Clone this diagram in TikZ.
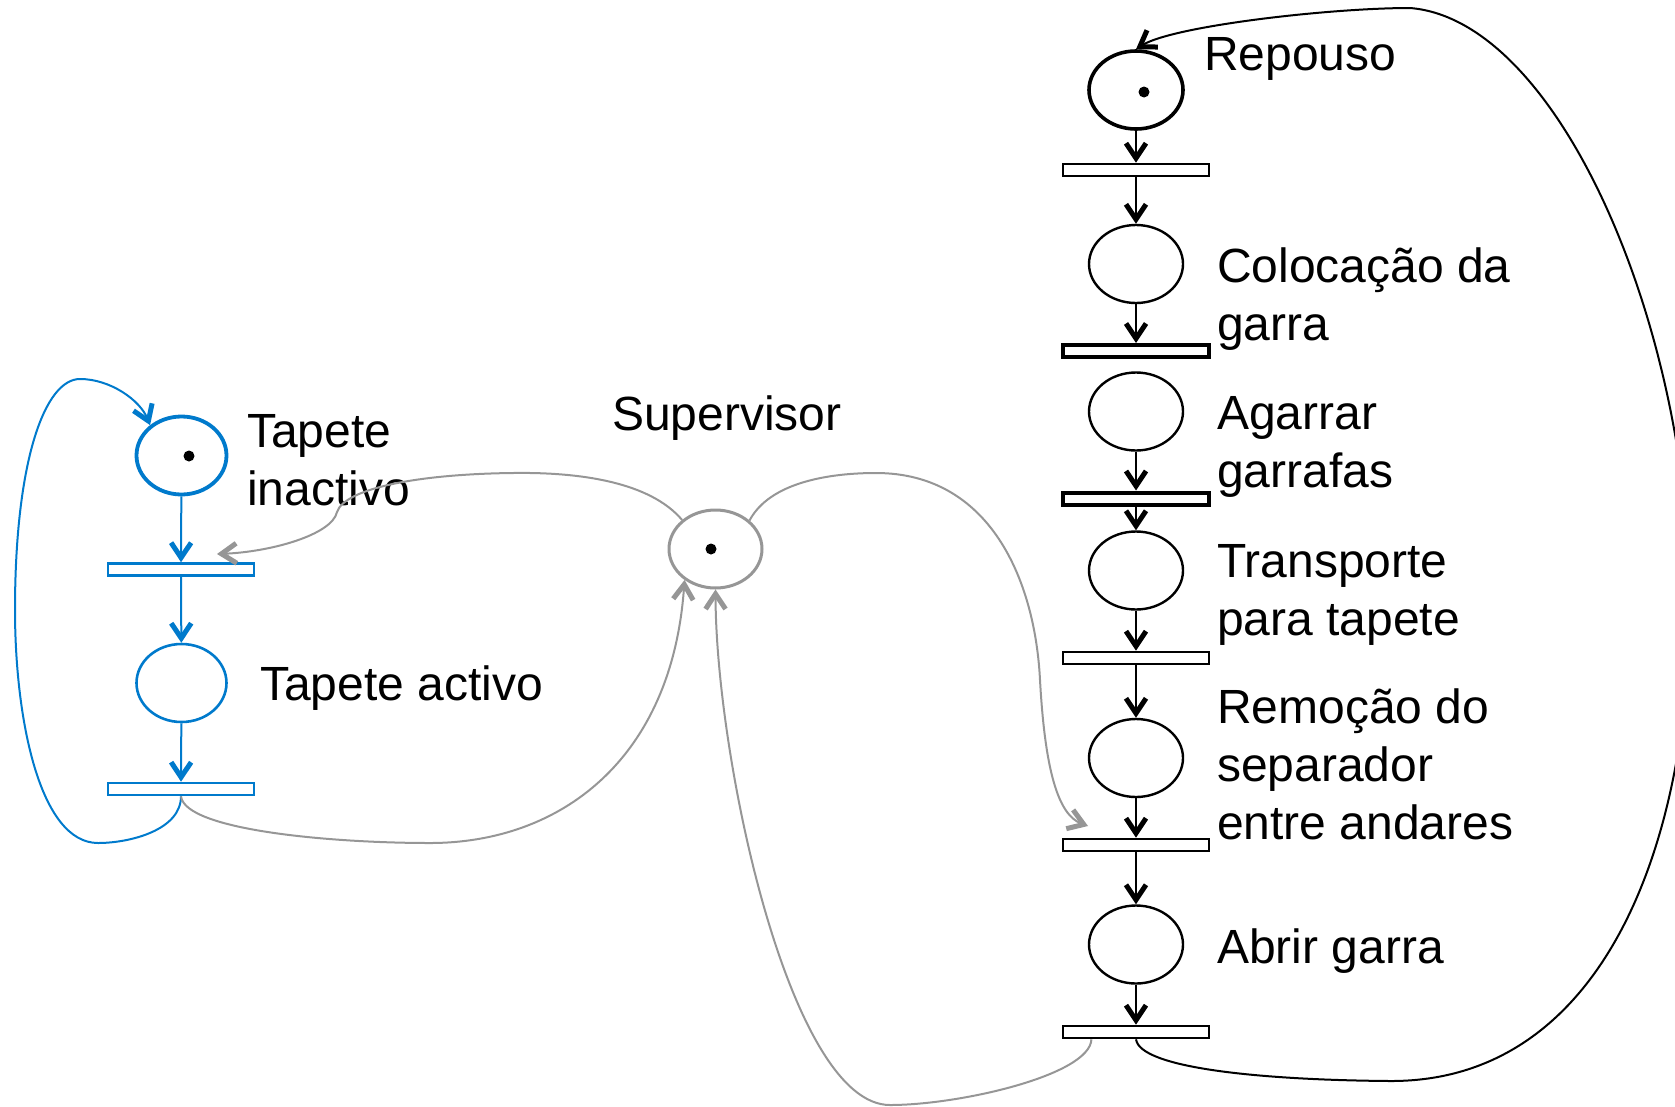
\documentclass[tikz,border=0pt]{standalone}
\usepackage{fontspec}
\setmainfont{Liberation Sans}
\usetikzlibrary{shapes.geometric,arrows.meta,calc}
\definecolor{netblue}{RGB}{0,122,204}
\definecolor{netgrey}{RGB}{150,150,150}
% several lines of text, the box baseline being that of the first line
\newcommand\txtlines[1]{\begin{tabular}[t]{@{}l@{}}#1\end{tabular}}

\begin{document}
\begin{tikzpicture}[x=1pt,y=-1pt,
  place/.style={ellipse,draw,fill=white,inner sep=0pt,minimum width=94pt,minimum height=78pt,line width=2.4pt},
  trans/.style={rectangle,draw,fill=white,inner sep=0pt,minimum width=146pt,minimum height=12pt,line width=2.6pt},
  heavy/.style={line width=4pt},
  token/.style={circle,fill=black,inner sep=0pt,minimum size=11pt},
  barb/.style={-{Straight Barb[length=15pt,width=20pt,line width=5pt]}},
  flow/.style={line width=2pt,barb},
  txt/.style={anchor=base west,inner sep=0pt,font=\fontsize{48}{58}\selectfont},
]
\useasboundingbox (0,0) rectangle (1675,1106);
\clip (0,0) rectangle (1675,1106);

% ---- gripper net (black) ----
\node[place,line width=3.6pt] (P1) at (1136,90) {};
\node[token] (k1) at (1144,92) {};
\node[trans] (T1) at (1136,170) {};
\node[place] (P2) at (1136,264) {};
\node[trans,heavy] (T2) at (1136,351) {};
\node[place] (P3) at (1136,411.5) {};
\node[trans,heavy] (T3) at (1136,498.5) {};
\node[place] (P4) at (1136,570.5) {};
\node[trans] (T4) at (1136,658) {};
\node[place] (P5) at (1136,758) {};
\node[trans] (T5) at (1136,845) {};
\node[place] (P6) at (1136,944.5) {};
\node[trans] (T6) at (1136,1032) {};

\draw[flow] (P1) -- (T1);
\draw[flow] (T1) -- (P2);
\draw[flow] (P2) -- (T2);
\draw[flow] (P3) -- (T3);
\draw[flow] (T3) -- (P4);
\draw[flow] (P4) -- (T4);
\draw[flow] (T4) -- (P5);
\draw[flow] (P5) -- (T5);
\draw[flow] (T5) -- (P6);
\draw[flow] (P6) -- (T6);

% return loop of the gripper cycle
\draw[flow] (T6.south) .. controls (1140,1068) and (1260,1080) .. (1390,1081)
  .. controls (1600,1082) and (1690,850) .. (1690,600)
  .. controls (1690,330) and (1560,20) .. (1410,8)
  .. controls (1330,8) and (1172,26) .. (P1.north);

\node[txt] (lP1) at (1204,70) {Repouso};
\node[txt] (lP2) at (1217,282) {\txtlines{Coloca\c{c}\~ao da\\garra}};
\node[txt] (lP3) at (1217,429) {\txtlines{Agarrar\\garrafas}};
\node[txt] (lP4) at (1217,577) {\txtlines{Transporte\\para tapete}};
\node[txt] (lP5) at (1217,723) {\txtlines{Remo\c{c}\~ao do\\separador\\entre andares}};
\node[txt] (lP6) at (1217,963) {Abrir garra};

% ---- conveyor net (blue) ----
\begin{scope}[netblue]
\node[place,line width=3.8pt,minimum width=90pt] (Pa1) at (181.5,455.5) {};
\node[token] (ka) at (189,456) {};
\node[trans] (Ta1) at (181,569.5) {};
\node[place,line width=2.6pt,minimum width=90pt] (Pa2) at (181.5,683) {};
\node[trans] (Ta2) at (181,789) {};
\draw[flow] (Pa1) -- (Ta1);
\draw[flow] (Ta1) -- (Pa2);
\draw[flow] (Pa2) -- (Ta2);
\draw[flow] (Ta2.south) .. controls (181,830) and (130,843) .. (98,843)
  .. controls (40,843) and (15,720) .. (15,610)
  .. controls (15,460) and (45,379) .. (80,379)
  .. controls (110,379) and (140,400) .. (Pa1.136);
\end{scope}
\node[txt] (lPa1) at (247,447) {\txtlines{Tapete\\inactivo}};
\node[txt] (lPa2) at (260,700) {Tapete activo};

% ---- supervisor place (grey) ----
\node[place,draw=netgrey,line width=3pt,minimum width=93pt] (Sup) at (715.5,549) {};
\node[token] (ks) at (711,549) {};
\node[txt] (lSup) at (612,430) {Supervisor};

\coordinate (supIn) at (217,554);
\coordinate (supOut) at (1088,826);
\coordinate (T6src) at ($(T6.south west)!0.2!(T6.south east)$);

\begin{scope}[netgrey]
\draw[flow] (Sup.139) .. controls (650,482) and (580,472) .. (513,473)
  .. controls (420,474) and (345,488) .. (337,512)
  .. controls (332,535) and (270,552) .. (supIn);
\draw[flow] (Ta2.south) .. controls (185,830) and (330,843) .. (430,843)
  .. controls (560,843) and (672,760) .. (Sup.225);
\draw[flow] (T6src) .. controls (1090,1075) and (960,1105) .. (890,1105)
  .. controls (790,1105) and (716,760) .. (Sup.south);
\draw[flow] (Sup.40) .. controls (770,482) and (830,473) .. (876,473)
  .. controls (990,473) and (1035,580) .. (1040,680)
  .. controls (1045,770) and (1058,815) .. (supOut);
\end{scope}
\end{tikzpicture}
\end{document}
